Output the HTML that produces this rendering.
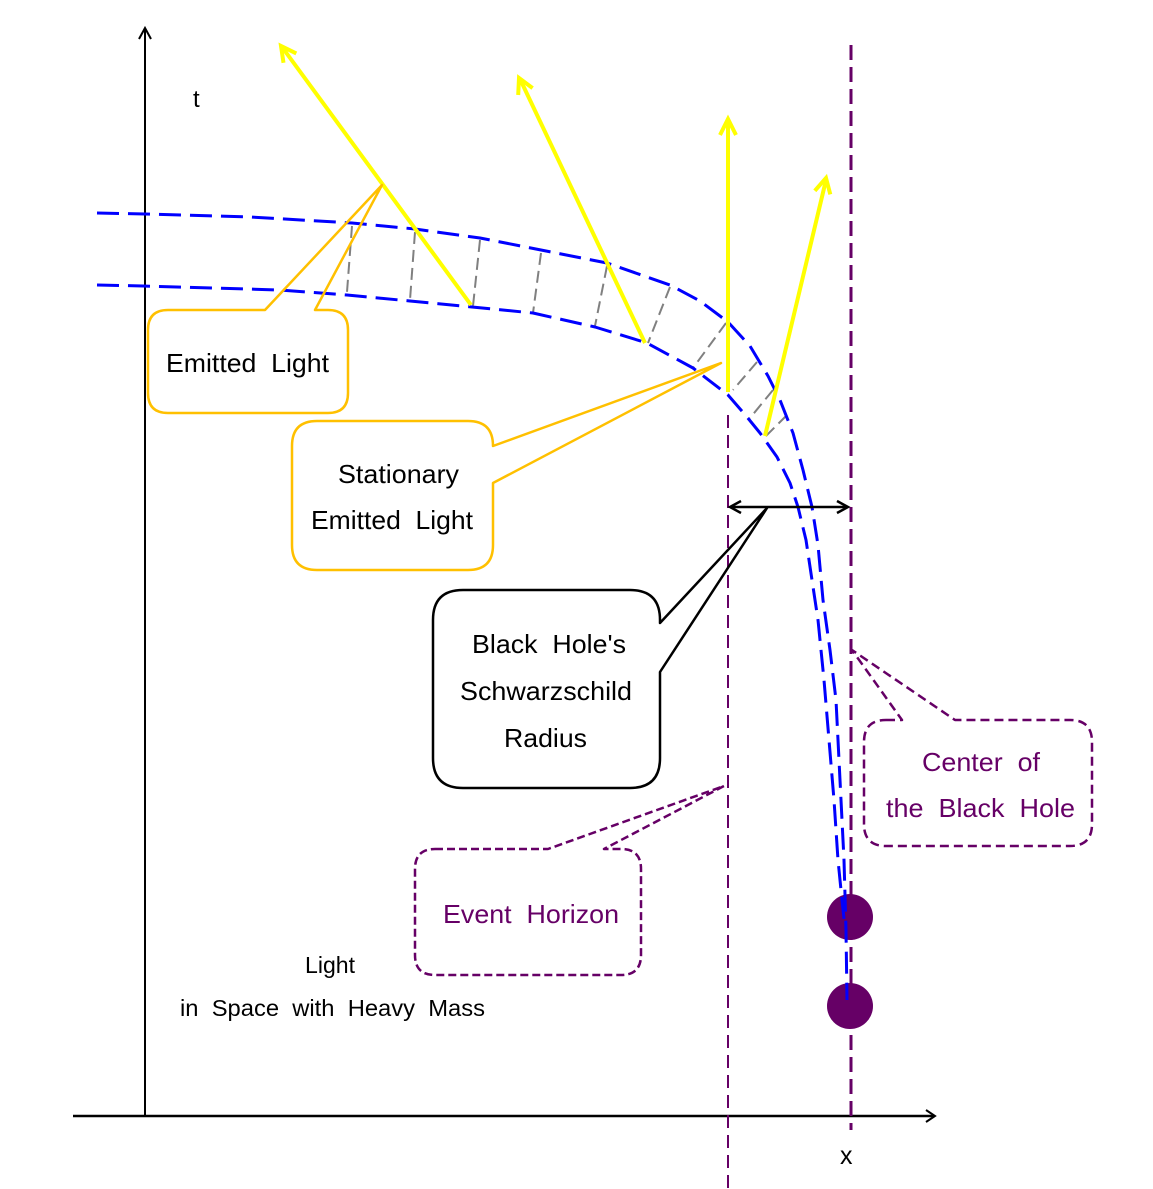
<!DOCTYPE html>
<html>
<head>
<meta charset="utf-8">
<style>
  html, body { margin:0; padding:0; background:#ffffff; }
  svg { display:block; }
  text { font-family: "Liberation Sans", Arial, sans-serif; white-space: pre; }
</style>
</head>
<body>
<svg width="1153" height="1189" viewBox="0 0 1153 1189" xmlns="http://www.w3.org/2000/svg">
  <rect x="0" y="0" width="1153" height="1189" fill="#ffffff"/>

  <!-- Axes -->
  <line x1="145" y1="1116" x2="145" y2="29" stroke="#000" stroke-width="2"/>
  <polyline points="139,39 145,28 151,39" fill="none" stroke="#000" stroke-width="2"/>
  <line x1="73" y1="1116" x2="934" y2="1116" stroke="#000" stroke-width="2.5"/>
  <polyline points="926,1110 935,1116 926,1122" fill="none" stroke="#000" stroke-width="2"/>

  <text x="193" y="107" font-size="24" fill="#000">t</text>
  <text x="840" y="1164" font-size="25" fill="#000">x</text>

  <!-- Event horizon line -->
  <line x1="728" y1="415" x2="728" y2="1189" stroke="#660066" stroke-width="2" stroke-dasharray="13 7"/>
  <!-- Center line -->
  <line x1="851" y1="45" x2="851" y2="1130" stroke="#660066" stroke-width="3" stroke-dasharray="15 7"/>

  <!-- Purple circles -->
  <circle cx="850" cy="917" r="23" fill="#660066"/>
  <circle cx="850" cy="1006" r="23" fill="#660066"/>

  <!-- Gray rungs -->
  <g stroke="#808080" stroke-width="2" stroke-dasharray="12 6" fill="none">
    <line x1="352" y1="226" x2="347" y2="292"/>
    <line x1="415" y1="232" x2="410" y2="300"/>
    <line x1="480" y1="240" x2="473" y2="306"/>
    <line x1="541" y1="253" x2="533" y2="313"/>
    <line x1="607" y1="266" x2="595" y2="326"/>
    <line x1="670" y1="287" x2="648" y2="343"/>
    <line x1="726" y1="323" x2="693" y2="368"/>
    <line x1="757" y1="362" x2="733" y2="390"/>
    <line x1="773" y1="390" x2="750" y2="418"/>
    <line x1="787" y1="415" x2="765" y2="437"/>
  </g>

  <!-- Blue curves -->
  <g stroke="#0000ff" stroke-width="3" fill="none" stroke-dasharray="22 9" stroke-linejoin="round">
    <polyline points="97,213 145,214 250,217 352,223 415,229 480,238 541,250 607,263 670,285 700,301 728,322 750,346 768,376 780,400 793,433 803,470 812,507 818,545 823,600 830,650 836,700 840,780 844,860 846,930 847,1000"/>
    <polyline points="97,285 143,286 280,290 347,295 410,301 472,307 533,313 595,327 647,343 693,368 728,395 747,417 760,433 777,457 790,483 798,507 806,540 812,580 818,620 824,680 829,740 834,800 838,860 842,900 845,928"/>
  </g>

  <!-- Yellow arrows -->
  <g stroke="#ffff00" stroke-width="4" fill="none" stroke-linecap="butt" stroke-linejoin="miter">
    <line x1="471" y1="305" x2="282" y2="47"/>
    <polyline points="283.5,62.8 281,46 296.3,53.4"/>
    <line x1="645" y1="343" x2="520" y2="79"/>
    <polyline points="518.2,95 519,78 532.6,88.1"/>
    <line x1="728" y1="392" x2="728" y2="121"/>
    <polyline points="720,135 728,119 736,135"/>
    <line x1="765" y1="436" x2="826" y2="180"/>
    <polyline points="814.8,190.8 826,178 830.3,194.4"/>
  </g>

  <!-- Black double arrow (Schwarzschild radius) -->
  <line x1="730" y1="507" x2="848" y2="507" stroke="#000" stroke-width="2.5"/>
  <polyline points="741,501 730,507 741,513" fill="none" stroke="#000" stroke-width="2.5"/>
  <polyline points="837,501 848,507 837,513" fill="none" stroke="#000" stroke-width="2.5"/>

  <!-- Callout: Emitted Light -->
  <path d="M168,310 L265,310 L382,185 L315,310 L328,310 Q348,310 348,330 L348,393 Q348,413 328,413 L168,413 Q148,413 148,393 L148,330 Q148,310 168,310 Z"
        fill="none" stroke="#ffc000" stroke-width="2.5" stroke-linejoin="round"/>
  <text x="166" y="372" font-size="26" fill="#000" textLength="163" lengthAdjust="spacingAndGlyphs">Emitted  Light</text>

  <!-- Callout: Stationary Emitted Light -->
  <path d="M317,421 L468,421 Q493,421 493,446 L721,363 L493,483 L493,545 Q493,570 468,570 L317,570 Q292,570 292,545 L292,446 Q292,421 317,421 Z"
        fill="none" stroke="#ffc000" stroke-width="2.5" stroke-linejoin="round"/>
  <text x="338" y="483" font-size="26" fill="#000" textLength="121" lengthAdjust="spacingAndGlyphs">Stationary</text>
  <text x="311" y="529" font-size="26" fill="#000" textLength="162" lengthAdjust="spacingAndGlyphs">Emitted  Light</text>

  <!-- Callout: Black Hole's Schwarzschild Radius -->
  <path d="M463,590 L630,590 Q660,590 660,620 L660,623 L767,508 L660,672 L660,758 Q660,788 630,788 L463,788 Q433,788 433,758 L433,620 Q433,590 463,590 Z"
        fill="none" stroke="#000" stroke-width="2.5" stroke-linejoin="round"/>
  <text x="472" y="653" font-size="26" fill="#000" textLength="154" lengthAdjust="spacingAndGlyphs">Black  Hole's</text>
  <text x="460" y="700" font-size="26" fill="#000" textLength="172" lengthAdjust="spacingAndGlyphs">Schwarzschild</text>
  <text x="504" y="747" font-size="26" fill="#000" textLength="83" lengthAdjust="spacingAndGlyphs">Radius</text>

  <!-- Callout: Event Horizon -->
  <path d="M435,849 L548,849 L724,786 L604,849 L621,849 Q641,849 641,869 L641,955 Q641,975 621,975 L435,975 Q415,975 415,955 L415,869 Q415,849 435,849 Z"
        fill="none" stroke="#660066" stroke-width="2.5" stroke-dasharray="8 4" stroke-linejoin="round"/>
  <text x="443" y="923" font-size="26" fill="#660066" textLength="176" lengthAdjust="spacingAndGlyphs">Event  Horizon</text>

  <!-- Callout: Center of the Black Hole -->
  <path d="M886,720 L902,720 L852,650 L955,720 L1070,720 Q1092,720 1092,742 L1092,824 Q1092,846 1070,846 L886,846 Q864,846 864,824 L864,742 Q864,720 886,720 Z"
        fill="none" stroke="#660066" stroke-width="2.5" stroke-dasharray="9 5" stroke-linejoin="round"/>
  <text x="922" y="771" font-size="26" fill="#660066" textLength="118" lengthAdjust="spacingAndGlyphs">Center  of</text>
  <text x="886" y="817" font-size="26" fill="#660066" textLength="189" lengthAdjust="spacingAndGlyphs">the  Black  Hole</text>

  <!-- Bottom labels -->
  <text x="305" y="973" font-size="23" fill="#000" textLength="50" lengthAdjust="spacingAndGlyphs">Light</text>
  <text x="180" y="1016" font-size="23" fill="#000" textLength="305" lengthAdjust="spacingAndGlyphs">in  Space  with  Heavy  Mass</text>
</svg>
</body>
</html>
